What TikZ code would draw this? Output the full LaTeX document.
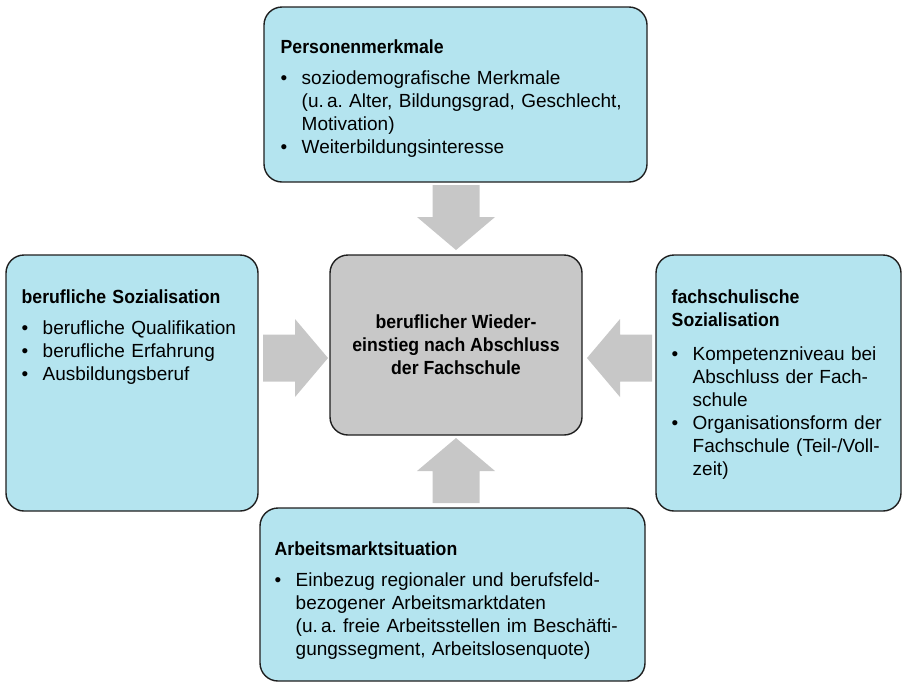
\documentclass[tikz,border=0pt]{standalone}
\usepackage{fontspec}
\setmainfont{Liberation Sans}[BoldFeatures={FakeStretch=0.93}]
\usetikzlibrary{positioning}

\definecolor{boxblue}{RGB}{180,228,239}
\definecolor{boxgray}{RGB}{200,200,200}
\definecolor{arrowgray}{RGB}{199,199,199}

% bullet line with hanging indent
\newcommand\bul[1]{\par\hangindent=10.5pt\hangafter=1\noindent\makebox[10.5pt][l]{\textbullet}#1\par}

\begin{document}
\begin{tikzpicture}[
    x = 0.5pt, y = -0.5pt, % one unit = one pixel of the sketch
    font = \fontsize{9.5}{11.5}\selectfont
    ]

    \tikzset{
    box/.style = {draw = black!88, line width = 0.7pt, rounded corners = 9pt, inner sep = 0pt},
    infobox/.style = {box, fill = boxblue},
    textblock/.style = {inner sep = 0pt, align = left, text width = #1},
    textblock/.default = 112pt,
    blockarrow/.pic = {\fill[arrowgray] (0,-23.5) -- (32,-23.5) -- (32,-39) -- (65,0)
        -- (32,39) -- (32,23.5) -- (0,23.5) -- cycle;}
    }

    \useasboundingbox (0,0) rectangle (903,682);

    % centre
    \node[box, fill = boxgray, minimum width = 126pt, minimum height = 90pt,
        align = center, font = \fontsize{9.5}{11.5}\selectfont\bfseries] (ziel) at (456,345)
        {beruflicher Wieder-\\einstieg nach Abschluss\\der Fachschule};

    % top
    \node[infobox, minimum width = 191.5pt, minimum height = 87.5pt] (pers) at (455.5,94.5) {};
    \node[textblock = 180pt, below right = 16.5pt and 8.5pt of pers.north west] (persText)
        {\textbf{Personenmerkmale}\par\vspace{4pt}
        \bul{soziodemografische Merkmale\newline(u.\,a.\ Alter, Bildungsgrad, Geschlecht,\newline Motivation)}
        \bul{Weiterbildungsinteresse}};

    % left
    \node[infobox, minimum width = 126pt, minimum height = 128pt] (beruf) at (132,383) {};
    \node[textblock, below right = 17.5pt and 8pt of beruf.north west] (berufText)
        {\textbf{berufliche Sozialisation}\par\vspace{4pt}
        \bul{berufliche Qualifikation}
        \bul{berufliche Erfahrung}
        \bul{Ausbildungsberuf}};

    % right
    \node[infobox, minimum width = 122.5pt, minimum height = 128pt] (fach) at (778.5,383) {};
    \node[textblock, below right = 17.5pt and 8pt of fach.north west] (fachText)
        {\textbf{fachschulische\\Sozialisation}\par\vspace{5.5pt}
        \bul{Kompetenzniveau bei\newline Abschluss der Fach-\newline schule}
        \bul{Organisationsform der\newline Fachschule (Teil-/Voll-\newline zeit)}};

    % bottom
    \node[infobox, minimum width = 192.5pt, minimum height = 86.5pt] (arbeit) at (452.5,594.5) {};
    \node[textblock = 180pt, below right = 17pt and 7.5pt of arbeit.north west] (arbeitText)
        {\textbf{Arbeitsmarktsituation}\par\vspace{4pt}
        \bul{Einbezug regionaler und berufsfeld-\newline bezogener Arbeitsmarktdaten\newline(u.\,a.\ freie Arbeitsstellen im Besch\"afti-\newline gungssegment, Arbeitslosenquote)}};

    % arrows into the centre
    \pic[rotate = -90] at (456,185) {blockarrow};
    \pic at (263,358) {blockarrow};
    \pic[rotate = 180] at (652,358) {blockarrow};
    \pic[rotate = 90] at (456,503) {blockarrow};
\end{tikzpicture}
\end{document}
